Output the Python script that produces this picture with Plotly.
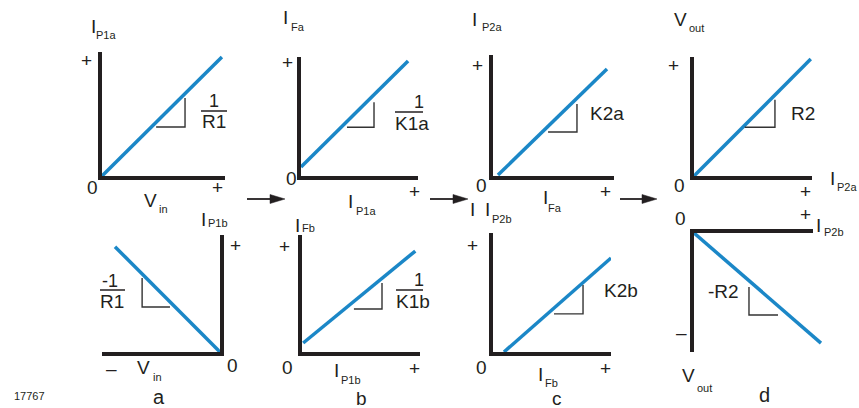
import plotly.graph_objects as go

W, H = 859, 408
FONT = "Liberation Sans, Arial, sans-serif"
INK = "#231f20"
BLUE = "#1b87c7"

# ---- transfer curves (each panel in its own full-scale units) ----
# a: input stage, positive / negative half
vin_pos = [0.0, 0.975]
ip1a = [0.0, 0.96]
vin_neg = [-0.89, 0.0]
ip1b = [0.9, 0.0]
# b: first current mirror
ip1a_in = [0.0, 0.915]
ifa = [0.076, 0.966]
ip1b_in = [0.01, 0.96]
ifb = [0.077, 0.863]
# c: second current mirror
ifa_in = [0.041, 0.942]
ip2a = [0.008, 0.884]
ifb_in = [0.093, 1.0]
ip2b = [0.0, 0.79]
# d: output stage (the negative branch runs a little past the axis end)
ip2a_in = [0.0, 0.99]
vout_pos = [0.0, 0.983]
ip2b_in = [0.0, 1.067]
vout_neg = [0.0, -0.925]

# ---- slope marker triangles ----
tri_a_top = ([0.44, 0.675, 0.675], [0.395, 0.395, 0.63])
tri_b_top = ([0.393, 0.624, 0.624], [0.41, 0.41, 0.62])
tri_c_top = ([0.455, 0.694, 0.694], [0.364, 0.364, 0.595])
tri_d_top = ([0.43, 0.686, 0.686], [0.41, 0.41, 0.64])
tri_a_bot = ([-0.66, -0.66, -0.424], [0.632, 0.385, 0.385])
tri_b_bot = ([0.44, 0.678, 0.678], [0.368, 0.368, 0.59])
tri_c_bot = ([0.517, 0.763, 0.763], [0.32, 0.32, 0.563])
tri_d_bot = ([0.462, 0.462, 0.706], [-0.454, -0.689, -0.689])

# panel layout: plot box in pixels (left, top, right, bottom), ranges, axis sides
panels = [
    dict(box=(102, 52, 225, 176), xr=[0, 1], yr=[0, 1], xs="bottom", ys="left",
         cx=vin_pos, cy=ip1a, tri=tri_a_top),
    dict(box=(301, 57, 418, 176), xr=[0, 1], yr=[0, 1], xs="bottom", ys="left",
         cx=ip1a_in, cy=ifa, tri=tri_b_top),
    dict(box=(493, 55, 614, 176), xr=[0, 1], yr=[0, 1], xs="bottom", ys="left",
         cx=ifa_in, cy=ip2a, tri=tri_c_top),
    dict(box=(694, 57, 812, 176), xr=[0, 1], yr=[0, 1], xs="bottom", ys="left",
         cx=ip2a_in, cy=vout_pos, tri=tri_d_top),
    dict(box=(102, 235, 220, 352), xr=[-1, 0], yr=[0, 1], xs="bottom", ys="right",
         cx=vin_neg, cy=ip1b, tri=tri_a_bot),
    dict(box=(302, 235, 420, 352), xr=[0, 1], yr=[0, 1], xs="bottom", ys="left",
         cx=ip1b_in, cy=ifb, tri=tri_b_bot),
    dict(box=(493, 233, 611, 352), xr=[0, 1], yr=[0, 1], xs="bottom", ys="left",
         cx=ifb_in, cy=ip2b, tri=tri_c_bot),
    dict(box=(694, 233, 813, 352), xr=[0, 1], yr=[-1, 0], xs="top", ys="left",
         cx=ip2b_in, cy=vout_neg, tri=tri_d_bot, ext=10),
]

fig = go.Figure()
layout = {}
n = len(panels)
extra = n  # index of the last helper axis pair
for i, p in enumerate(panels, start=1):
    sfx = "" if i == 1 else str(i)
    L, T, R, B = p["box"]
    common = dict(showline=True, linewidth=4, linecolor=INK, showgrid=False,
                  zeroline=False, showticklabels=False, ticks="",
                  layer="below traces", fixedrange=True)
    layout["xaxis" + sfx] = dict(domain=[L / W, R / W], range=p["xr"], side=p["xs"],
                                 anchor="y" + sfx, **common)
    layout["yaxis" + sfx] = dict(domain=[1 - B / H, 1 - T / H], range=p["yr"], side=p["ys"],
                                 anchor="x" + sfx, **common)
    cx_ref, cy_ref = "x" + sfx, "y" + sfx
    if p.get("ext"):
        # a wider, invisible axis pair on the same scale so the curve may
        # continue beyond the drawn axis line
        extra += 1
        e = str(extra)
        ext = p["ext"]
        span = p["xr"][1] - p["xr"][0]
        layout["xaxis" + e] = dict(domain=[L / W, (R + ext) / W],
                                   range=[p["xr"][0], p["xr"][1] + span * ext / (R - L)],
                                   visible=False, anchor="y" + e, fixedrange=True)
        layout["yaxis" + e] = dict(domain=[1 - B / H, 1 - T / H], range=p["yr"],
                                   visible=False, anchor="x" + e, fixedrange=True)
        cx_ref, cy_ref = "x" + e, "y" + e
    fig.add_trace(go.Scatter(x=p["cx"], y=p["cy"], mode="lines",
                             line=dict(color=BLUE, width=3.5),
                             xaxis=cx_ref, yaxis=cy_ref, hoverinfo="skip"))
    tx, ty = p["tri"]
    fig.add_trace(go.Scatter(x=tx, y=ty, mode="lines",
                             line=dict(color="#333333", width=1.4),
                             xaxis="x" + sfx, yaxis="y" + sfx, hoverinfo="skip"))

annotations = []
shapes = []


def px(x):
    return x / W


def py(y):
    return 1 - y / H


def text(x, y, s, size=19):
    annotations.append(dict(x=px(x), y=py(y), xref="paper", yref="paper", text=s,
                            showarrow=False, xanchor="center", yanchor="middle",
                            font=dict(size=size, family=FONT, color=INK)))


def bar(x0, x1, y):
    shapes.append(dict(type="line", xref="paper", yref="paper",
                       x0=px(x0), x1=px(x1), y0=py(y), y1=py(y),
                       line=dict(color=INK, width=1.5)))


def arrow(x0, x1, y):
    shapes.append(dict(type="line", xref="paper", yref="paper",
                       x0=px(x0), x1=px(x1 - 12), y0=py(y), y1=py(y),
                       line=dict(color=INK, width=1.8)))
    path = "M {} {} L {} {} L {} {} Z".format(px(x1 - 15), py(y - 4.5), px(x1), py(y),
                                               px(x1 - 15), py(y + 4.5))
    shapes.append(dict(type="path", xref="paper", yref="paper", path=path,
                       fillcolor=INK, line=dict(color=INK, width=0.5)))


SUB = 11

# --- panel a, top ---
text(93, 26, "I"); text(106, 35, "P1a", SUB)
text(86, 60, "+"); text(92, 188, "0"); text(217, 188, "+")
text(150, 200, "V"); text(163, 209, "in", SUB)
text(214, 101, "1", 18); bar(201, 227, 111); text(214, 121, "R1")

# --- panel b, top ---
text(285, 18, "I"); text(298, 27, "Fa", SUB)
text(287, 62, "+"); text(291, 178, "0"); text(414, 191, "+")
text(350, 201, "I"); text(366, 211, "P1a", SUB)
text(419, 102, "1", 18); bar(395, 423, 112); text(412, 123, "K1a")

# --- panel c, top ---
text(475, 19, "I"); text(492, 27, "P2a", SUB)
text(478, 65, "+"); text(481, 186, "0"); text(605, 191, "+")
text(545, 197, "I"); text(555, 208, "Fa", SUB)
text(607, 113, "K2a")

# --- panel d, top ---
text(680, 19, "V"); text(696, 28, "out", SUB)
text(673, 65, "+"); text(679, 186, "0"); text(805, 191, "+")
text(832, 178, "I"); text(847, 187, "P2a", SUB)
text(803, 113, "R2")

# --- panel a, bottom ---
text(203, 219, "I"); text(218, 223, "P1b", SUB)
text(235, 245, "+"); text(232, 365, "0"); text(112, 368, "\u2013")
text(143, 367, "V"); text(157, 377, "in", SUB)
text(110, 281, "-1", 18); bar(100, 125, 290); text(112, 301, "R1")
text(159, 397, "a", 20)
text(29, 396, "17767", SUB)

# --- panel b, bottom ---
text(297, 225, "I"); text(308, 228, "Fb", SUB)
text(284, 247, "+"); text(287, 367, "0"); text(414, 368, "+")
text(336, 370, "I"); text(351, 380, "P1b", SUB)
text(419, 280, "1", 18); bar(396, 423, 290); text(413, 301, "K1b")
text(361, 398, "b", 19)

# --- panel c, bottom ---
text(473, 210, "I"); text(487, 210, "I"); text(502, 219, "P2b", SUB)
text(472, 245, "+"); text(481, 367, "0"); text(605, 368, "+")
text(540, 374, "I"); text(551, 383, "Fb", SUB)
text(621, 290, "K2b")
text(557, 398, "c", 19)

# --- panel d, bottom ---
text(680, 218, "0"); text(805, 214, "+")
text(818, 225, "I"); text(834, 232, "P2b", SUB)
text(681, 332, "\u2013"); text(723, 291, "-R2")
text(688, 375, "V"); text(704, 388, "out", SUB)
text(764, 395, "d", 20)

# signal-flow arrows between stages
arrow(247, 285, 199)
arrow(430, 468, 199)
arrow(620, 657, 199)

fig.update_layout(
    width=W, height=H, margin=dict(l=0, r=0, t=0, b=0),
    paper_bgcolor="white", plot_bgcolor="rgba(0,0,0,0)",
    showlegend=False, annotations=annotations, shapes=shapes,
    **layout,
)

fig.write_html("out.html", config={"displayModeBar": False})
